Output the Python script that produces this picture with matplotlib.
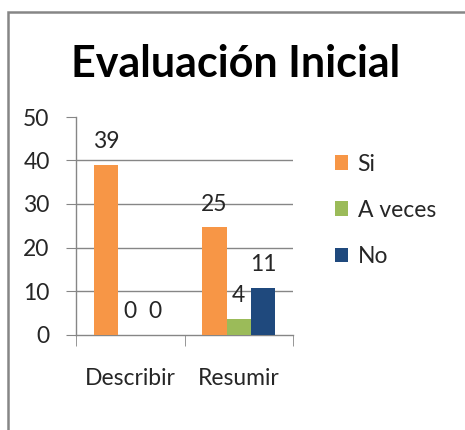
import numpy as np
import matplotlib.pyplot as plt
from matplotlib.patches import Rectangle

categories = ['Describir', 'Resumir']
series = ['Si', 'A veces', 'No']
si = [39, 24.6]
a_veces = [0, 3.6]
no = [0, 10.7]
colors = ['#F79646', '#9BBB59', '#1F497D']

plt.rcParams['font.family'] = ['Lato', 'DejaVu Sans']
gray = '#868686'
txt = '#262626'
fs = 16.5

fig = plt.figure(figsize=(4.65, 4.30), dpi=100)
# outer chart border (cut off on the right and bottom)
fig.patches.append(Rectangle((8/465, -0.1), 1.2, (430-12)/430 + 0.1, transform=fig.transFigure,
                             fill=False, edgecolor=gray, linewidth=1.8))

ax = fig.add_axes([76/465, 95.5/430, 217/465, 217.5/430])
x = np.arange(len(categories))
w = 0.224
for i, (vals, name) in enumerate(zip([si, a_veces, no], series)):
    bars = ax.bar(x + (i - 1) * w, vals, w, color=colors[i], label=name, zorder=3)
    for b, v in zip(bars, vals):
        ax.annotate('%.0f' % v, (b.get_x() + b.get_width()/2, b.get_height()),
                    xytext=(0, 9), textcoords='offset points',
                    ha='center', va='bottom', fontsize=fs, color=txt)

ax.set_xlim(-0.5, 1.5)
ax.set_ylim(0, 50)
ax.set_yticks([0, 10, 20, 30, 40, 50])
for yv in [10, 20, 30, 40]:
    ax.axhline(yv, color=gray, linewidth=1, zorder=1)
for s in ['top', 'right']:
    ax.spines[s].set_visible(False)
for s in ['left', 'bottom']:
    ax.spines[s].set_color(gray)
    ax.spines[s].set_linewidth(1)
ax.tick_params(axis='y', length=7, color=gray, pad=12, labelsize=fs, labelcolor=txt)
ax.set_xticks(x)
ax.set_xticklabels(categories)
ax.tick_params(axis='x', which='major', length=0, pad=24, labelsize=fs, labelcolor=txt)
ax.set_xticks([-0.5, 0.5, 1.5], minor=True)
ax.tick_params(axis='x', which='minor', length=8, color=gray)

ax.legend(loc='upper left', bbox_to_anchor=(314/465, 297/430), bbox_transform=fig.transFigure,
          frameon=False, fontsize=fs, handlelength=0.6, handleheight=0.6,
          handletextpad=0.4, labelspacing=1.1, labelcolor=txt)

fig.text(236/465, 1 - 64/430, 'Evaluación Inicial', ha='center', va='center',
         fontsize=31, fontweight='bold', color='black')

fig.savefig('out.png', dpi=100)
